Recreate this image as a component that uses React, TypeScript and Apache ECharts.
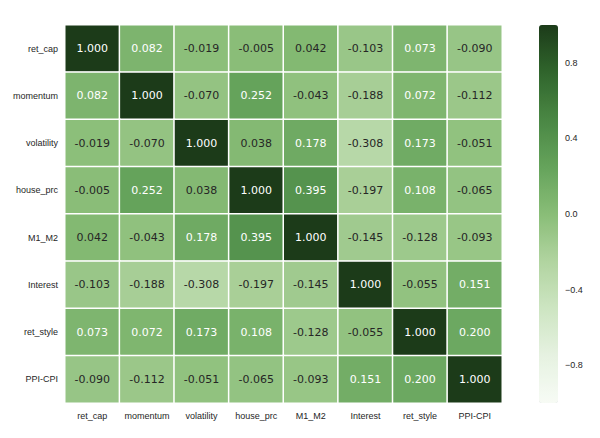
import React, { useEffect, useRef } from "react";
import * as echarts from "echarts";

const labels = ["ret_cap", "momentum", "volatility", "house_prc", "M1_M2", "Interest", "ret_style", "PPI-CPI"];

const rowRetCap = [1.0, 0.082, -0.019, -0.005, 0.042, -0.103, 0.073, -0.09];
const rowMomentum = [0.082, 1.0, -0.07, 0.252, -0.043, -0.188, 0.072, -0.112];
const rowVolatility = [-0.019, -0.07, 1.0, 0.038, 0.178, -0.308, 0.173, -0.051];
const rowHousePrc = [-0.005, 0.252, 0.038, 1.0, 0.395, -0.197, 0.108, -0.065];
const rowM1M2 = [0.042, -0.043, 0.178, 0.395, 1.0, -0.145, -0.128, -0.093];
const rowInterest = [-0.103, -0.188, -0.308, -0.197, -0.145, 1.0, -0.055, 0.151];
const rowRetStyle = [0.073, 0.072, 0.173, 0.108, -0.128, -0.055, 1.0, 0.2];
const rowPpiCpi = [-0.09, -0.112, -0.051, -0.065, -0.093, 0.151, 0.2, 1.0];

const matrix = [rowRetCap, rowMomentum, rowVolatility, rowHousePrc, rowM1M2, rowInterest, rowRetStyle, rowPpiCpi];

const colorbarTicks = [-0.8, -0.4, 0, 0.4, 0.8];

export default function App() {
  const ref = useRef<HTMLDivElement>(null);
  useEffect(() => {
    if (!ref.current) return;
    const chart = echarts.init(ref.current, null, { renderer: "svg" });
    const data: any[] = [];
    matrix.forEach((row, yi) => {
      row.forEach((v, xi) => {
        data.push({
          value: [xi, yi, v],
          label: { color: v > 0.06 ? "#ffffff" : "#262626" },
        });
      });
    });
    const gridL = 65, gridT = 25, gridW = 437, gridH = 378;
    const option: any = {
      animation: false,
      backgroundColor: "#ffffff",
      grid: [
        { left: gridL, top: gridT, width: gridW, height: gridH },
        { left: 539, top: gridT, width: 19, height: gridH },
      ],
      xAxis: [
        {
          type: "category",
          data: labels,
          gridIndex: 0,
          axisLine: { show: false },
          axisTick: { show: false },
          splitLine: { show: false },
          axisLabel: { interval: 0, fontFamily: "Liberation Sans, Arial, sans-serif", fontSize: 9, color: "#262626", margin: 8 },
        },
        {
          type: "value",
          gridIndex: 1,
          show: false,
          min: 0,
          max: 1,
        },
      ],
      yAxis: [
        {
          type: "category",
          data: labels,
          inverse: true,
          gridIndex: 0,
          axisLine: { show: false },
          axisTick: { show: false },
          splitLine: { show: false },
          axisLabel: { interval: 0, fontFamily: "Liberation Sans, Arial, sans-serif", fontSize: 9, color: "#262626", margin: 7 },
        },
        {
          type: "value",
          gridIndex: 1,
          position: "right",
          min: -1,
          max: 1,
          axisLine: { show: false },
          axisTick: { show: false },
          splitLine: { show: false },
          axisLabel: {
            customValues: colorbarTicks,
            fontFamily: "Liberation Sans, Arial, sans-serif",
            fontSize: 9,
            color: "#262626",
            margin: 7,
            formatter: (v: number) => (v < 0 ? "\u2212" + Math.abs(v).toFixed(1) : v.toFixed(1)),
          },
        },
      ],
      visualMap: {
        type: "continuous",
        min: -1,
        max: 1,
        seriesIndex: 0,
        calculable: false,
        orient: "vertical",
        left: 539,
        top: gridT,
        itemWidth: 19,
        itemHeight: gridH,
        padding: 0,
        text: ["", ""],
        showLabel: false,
        inRange: {
          color: ["#f7fbf5", "#e6f2e1", "#cde5c2", "#b1d4a0", "#89bd77", "#65a35b", "#4a8744", "#30652c", "#1c3b19"],
        },
      },
      series: [
        {
          type: "heatmap",
          xAxisIndex: 0,
          yAxisIndex: 0,
          data,
          itemStyle: { borderColor: "#ffffff", borderWidth: 1.5 },
          label: {
            show: true,
            fontFamily: "DejaVu Sans, sans-serif",
            fontSize: 11,
            formatter: (p: any) => p.value[2].toFixed(3),
          },
          emphasis: { disabled: true },
        },
        {
          type: "scatter",
          xAxisIndex: 1,
          yAxisIndex: 1,
          data: [],
        },
      ],
    };
    chart.setOption(option);
    return () => chart.dispose();
  }, []);
  return <div ref={ref} style={{ width: 600, height: 438, position: "absolute", left: 0, top: 0 }} />;
}
